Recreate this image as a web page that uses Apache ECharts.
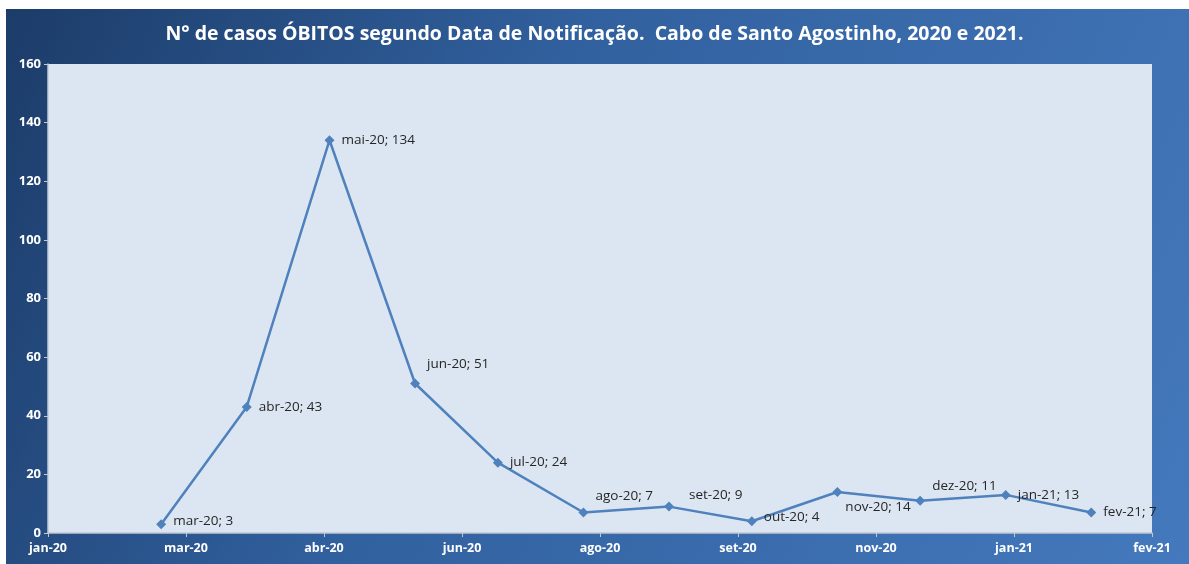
<!DOCTYPE html>
<html>
<head>
<meta charset="utf-8">
<script src="https://cdn.jsdelivr.net/npm/echarts@6/dist/echarts.min.js"></script>
<style>
  html, body { margin: 0; padding: 0; background: #fff; }
  #chart { width: 1189px; height: 564px; }
</style>
</head>
<body>
<div id="chart"></div>
<script>
// datas dos pontos (1º dia do mês) e nº de óbitos
var months = ['2020-03-01', '2020-04-01', '2020-05-01', '2020-06-01', '2020-07-01', '2020-08-01',
              '2020-09-01', '2020-10-01', '2020-11-01', '2020-12-01', '2021-01-01', '2021-02-01'];
var obitos = [3, 43, 134, 51, 24, 7, 9, 4, 14, 11, 13, 7];

// eixo x em número de série de data (como no Excel)
var xMin = 43850, xMax = 44250, xStep = 50;
var yMax = 160, yStep = 20;

var mesesPt = ['jan', 'fev', 'mar', 'abr', 'mai', 'jun', 'jul', 'ago', 'set', 'out', 'nov', 'dez'];

// deslocamento dos rótulos de cada ponto
var labelOffsets = [[0, -3], [0, 0], [0, 0], [0, -19], [0, 0], [0, -16],
                    [8, -11], [0, -4], [-4, 15], [0, -15], [0, 0], [0, 0]];

var epoch = Date.UTC(1899, 11, 30);

function toSerial(s) {
    var p = s.split('-');
    return Math.round((Date.UTC(+p[0], +p[1] - 1, +p[2]) - epoch) / 86400000);
}

function fmtSerial(v) {
    var d = new Date(epoch + v * 86400000);
    return mesesPt[d.getUTCMonth()] + '-' + String(d.getUTCFullYear()).slice(2);
}

var seriesData = [];
for (var i = 0; i < months.length; i++) {
    var x = toSerial(months[i]);
    seriesData.push({
        value: [x, obitos[i]],
        label: { offset: labelOffsets[i] }
    });
}

var myChart = echarts.init(document.getElementById('chart'));

var option = {
    animation: false,
    backgroundColor: '#ffffff',
    graphic: [{
        type: 'rect',
        left: 6, top: 9,
        shape: { width: 1183, height: 555 },
        z: -10,
        style: {
            fill: new echarts.graphic.LinearGradient(0, 0, 1, 1, [
                { offset: 0, color: '#1c3c69' },
                { offset: 0.4, color: '#31609e' },
                { offset: 1, color: '#4479bd' }
            ])
        }
    }],
    title: {
        text: 'N° de casos ÓBITOS segundo Data de Notificação.  Cabo de Santo Agostinho, 2020 e 2021.',
        left: 'center',
        top: 19,
        textStyle: {
            color: '#ffffff',
            fontFamily: 'Open Sans',
            fontWeight: 'bold',
            fontSize: 19.5
        }
    },
    grid: {
        left: 48,
        top: 64,
        right: 37,
        bottom: 31,
        show: true,
        backgroundColor: '#dce6f2',
        borderWidth: 0
    },
    xAxis: {
        type: 'value',
        min: xMin,
        max: xMax,
        interval: xStep,
        splitLine: { show: false },
        axisLine: { lineStyle: { color: '#c0c8d4', width: 1.5 } },
        axisTick: { show: true, length: 4, lineStyle: { color: '#c0c8d4' } },
        axisLabel: {
            color: '#ffffff',
            fontFamily: 'Open Sans',
            fontWeight: 'bold',
            fontSize: 12.5,
            margin: 9,
            formatter: fmtSerial
        }
    },
    yAxis: {
        type: 'value',
        min: 0,
        max: yMax,
        interval: yStep,
        splitLine: { show: false },
        axisLine: { show: true, lineStyle: { color: '#c0c8d4', width: 1.5 } },
        axisTick: { show: true, length: 4, lineStyle: { color: '#c0c8d4' } },
        axisLabel: {
            color: '#ffffff',
            fontFamily: 'Open Sans',
            fontWeight: 'bold',
            fontSize: 13,
            margin: 7
        }
    },
    series: [{
        type: 'line',
        data: seriesData,
        symbol: 'diamond',
        symbolSize: 10,
        lineStyle: { color: '#4f81bd', width: 2.5 },
        itemStyle: { color: '#4f81bd' },
        label: {
            show: true,
            position: 'right',
            distance: 7,
            color: '#262626',
            fontFamily: 'Open Sans',
            fontSize: 13.5,
            formatter: function (p) {
                return fmtSerial(p.value[0]) + '; ' + p.value[1];
            }
        }
    }]
};

myChart.setOption(option);
</script>
</body>
</html>
